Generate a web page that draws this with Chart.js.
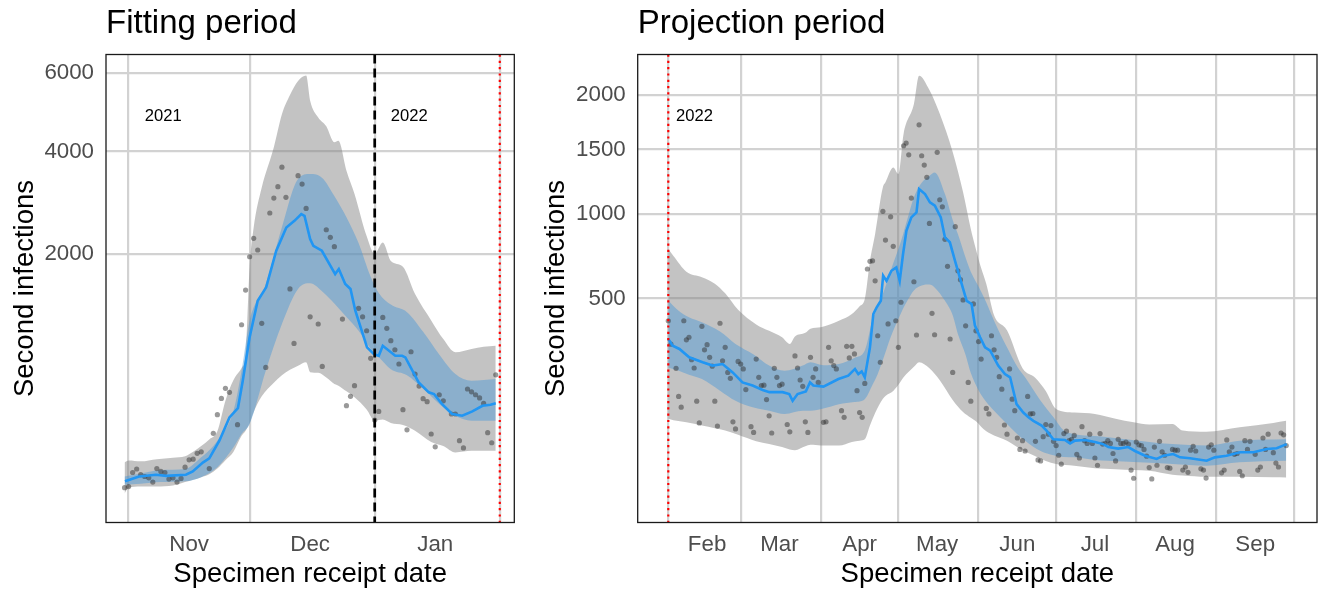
<!DOCTYPE html>
<html>
<head>
<meta charset="utf-8">
<script src="https://cdn.jsdelivr.net/npm/chart.js@4/dist/chart.umd.min.js"></script>
<style>
  html, body { margin: 0; padding: 0; background: #ffffff; }
  body { width: 1319px; height: 589px; position: relative; overflow: hidden; }
  canvas { position: absolute; top: 0; }
</style>
</head>
<body>
<canvas id="fit" width="530" height="589" style="left:0px"></canvas>
<canvas id="proj" width="789" height="589" style="left:530px"></canvas>
<script>
// ---------------- DATA ----------------
// Fitting period: x = days since 2021-11-01
const FIT_MONTH_STARTS = [0, 30, 61, 92];           // Nov 1, Dec 1, Jan 1, Feb 1
const FIT_LABEL_DAYS   = [15, 45, 76];              // mid-month label positions
const FIT_LABELS       = ['Nov', 'Dec', 'Jan'];
const FIT_Y_TICKS      = [2000, 4000, 6000];

const FIT_POINT_DAYS = [
  -1, 0, 1, 2, 3, 4, 5, 6, 7, 8,
  9, 10, 11, 12, 13, 14, 15, 16, 17, 18,
  20, 21, 22, 23, 24, 25, 27, 28, 29, 30,
  31, 32, 33, 34, 35, 36, 37, 38, 39, 40,
  41, 42, 43, 44, 45, 47, 48, 49, 50, 51,
  53, 54, 55, 56, 57, 58, 59, 60, 61, 62,
  63, 64, 65, 66, 67, 68, 69, 70, 71, 72,
  73, 74, 75, 76, 77, 78, 80, 81, 82, 83,
  84, 85, 86, 87, 88, 89, 90, 91];
const FIT_POINT_VALUES = [
  6, 7, 27, 34, 23, 20, 18, 12, 35, 29,
  27, 16, 18, 12, 17, 38, 56, 58, 75, 80,
  35, 151, 245, 346, 417, 388, 192, 1019, 1459, 1956,
  2261, 2065, 1036, 586, 2718, 3008, 3237, 3652, 3022, 1475,
  815, 3467, 3292, 2806, 1113, 1028, 595, 2412, 2279, 2120,
  1086, 299, 360, 437, 1218, 1113, 951, 668, 216, 264,
  1106, 978, 843, 751, 616, 274, 167, 731, 529, 434,
  344, 324, 148, 97, 371, 330, 249, 249, 120, 93,
  412, 392, 371, 349, 313, 154, 112, 523];

const FIT_MEDIAN_DAYS = [-0.9, 2.6, 6.8, 9.3, 14.2, 15.9, 18.4, 20, 22.5, 25,
  27.1, 28.3, 30, 32, 34.1, 36.6, 39.1, 41.1, 42.8, 43.6,
  45, 45.8, 47.9, 51.2, 52.1, 53.7, 55, 56.2, 59.1, 60.8,
  62, 63, 66.1, 67.8, 68.6, 71.9, 74.4, 75.7, 77.7, 80.2,
  82.7, 85.2, 87.7, 89.7, 91];
const FIT_MEDIAN = [13, 20, 23, 21, 23, 29, 49, 60, 120, 230,
  284, 475, 879, 1316, 1497, 2053, 2452, 2572, 2699, 2665,
  2250, 2135, 2053, 1689, 1764, 1544, 1474, 1188, 775, 708,
  692, 791, 692, 692, 677, 462, 388, 376, 309, 249,
  239, 264, 298, 305, 314];

const FIT_BAND50_DAYS = [-1, 3, 8, 14, 18, 22, 26, 28, 30, 34, 38, 42, 45, 48, 51, 54, 57, 60, 62, 65, 69, 73, 77, 81, 85, 91];
const FIT_UPPER50 = [20, 25, 32, 34, 63, 120, 268, 557, 1066, 1544, 2455, 3397, 3503, 3420, 3050, 2640, 2180, 1650, 1420, 1265, 1170, 940, 705, 529, 475, 488];
const FIT_LOWER50 = [9, 10, 12, 13, 19, 38, 95, 148, 195, 557, 1027, 1475, 1553, 1440, 1280, 1110, 950, 760, 680, 570, 520, 415, 309, 239, 212, 212];

const FIT_BAND95_DAYS = [-1, 0, 3, 7, 11, 14, 16, 18, 20, 22, 24, 26, 28, 29, 30, 31, 33, 36, 38, 40, 42, 44, 45, 47, 49, 51, 52, 54, 56, 59, 61, 63, 65, 68, 71, 75, 78, 81, 85, 88, 91];
const FIT_UPPER95 = [49, 54, 52, 58, 62, 66, 80, 100, 125, 160, 330, 480, 580, 700, 1790, 2450, 3220, 4100, 4900, 5400, 5780, 5930, 5250, 4820, 4600, 4215, 4250, 3575, 3090, 2300, 2000, 2190, 1890, 1800, 1405, 1070, 860, 726, 758, 781, 791];
const FIT_LOWER95 = [2, 6, 7, 7, 8, 12, 15, 19, 24, 35, 55, 80, 140, 163, 200, 260, 360, 460, 520, 565, 600, 631, 545, 540, 500, 450, 437, 395, 353, 275, 212, 218, 200, 190, 163, 115, 100, 78, 83, 83, 83];

// Projection period: x = days since 2022-02-01
const PROJ_MONTH_STARTS = [0, 28, 59, 89, 120, 150, 181, 212, 242];
const PROJ_LABEL_DAYS   = [15, 43, 74, 104, 135, 165, 196, 227];
const PROJ_LABELS       = ['Feb', 'Mar', 'Apr', 'May', 'Jun', 'Jul', 'Aug', 'Sep'];
const PROJ_Y_TICKS      = [500, 1000, 1500, 2000];

const PROJ_POINT_DAYS = [
  0, 1, 3, 4, 5, 6, 7, 8, 9, 10,
  11, 12, 13, 14, 15, 16, 17, 18, 19, 20,
  21, 22, 23, 24, 25, 26, 27, 28, 29, 30,
  32, 33, 34, 35, 36, 37, 38, 39, 40, 41,
  42, 43, 44, 46, 47, 49, 50, 51, 52, 53,
  54, 55, 56, 57, 58, 60, 61, 62, 63, 64,
  65, 67, 68, 69, 70, 71, 72, 73, 74, 75,
  76, 77, 78, 79, 80, 81, 82, 83, 84, 85,
  86, 87, 88, 89, 90, 91, 92, 93, 94, 95,
  96, 97, 98, 99, 100, 101, 102, 103, 104, 105,
  106, 107, 108, 109, 110, 111, 112, 113, 114, 115,
  116, 117, 118, 119, 120, 121, 123, 124, 125, 126,
  127, 128, 129, 130, 131, 132, 133, 134, 135, 136,
  137, 138, 139, 140, 141, 142, 143, 144, 145, 146,
  147, 148, 149, 150, 151, 152, 153, 154, 155, 156,
  157, 158, 159, 160, 161, 162, 163, 164, 165, 166,
  167, 168, 169, 170, 171, 172, 173, 174, 175, 176,
  177, 178, 179, 180, 181, 182, 183, 184, 185, 186,
  187, 188, 189, 190, 191, 192, 193, 194, 195, 196,
  197, 199, 200, 201, 202, 203, 204, 206, 207, 208,
  209, 210, 211, 214, 215, 216, 217, 218, 219, 220,
  221, 222, 223, 224, 225, 227, 228, 229, 230, 231,
  232, 234, 235, 236, 237, 238, 239];
const PROJ_POINT_VALUES = [
  396, 300, 215, 134, 108, 396, 317, 327, 244, 216,
  122, 75, 372, 279, 298, 252, 222, 122, 69, 385,
  240, 288, 202, 184, 77, 64, 238, 229, 213, 152,
  68, 58, 246, 187, 163, 164, 126, 89, 57, 215,
  187, 163, 167, 72, 59, 257, 216, 179, 161, 77,
  58, 252, 187, 213, 172, 76, 77, 288, 240, 224,
  213, 100, 86, 292, 250, 292, 264, 149, 96, 86,
  169, 655, 699, 702, 590, 333, 235, 1020, 828, 382,
  982, 789, 396, 288, 481, 1533, 1556, 1456, 1115, 585,
  336, 1719, 1448, 1371, 1273, 937, 429, 337, 1477, 1103,
  1052, 833, 670, 320, 202, 915, 645, 596, 492, 374,
  172, 122, 473, 353, 310, 246, 105, 93, 333, 279,
  252, 189, 153, 71, 55, 213, 127, 100, 49, 33,
  45, 31, 134, 93, 94, 44, 21, 20, 51, 72,
  55, 70, 44, 38, 26, 17, 56, 60, 45, 47,
  53, 27, 23, 68, 45, 41, 55, 41, 23, 16,
  56, 40, 41, 45, 41, 28, 20, 47, 41, 41,
  43, 40, 12, 6.6, 43, 39, 38, 33, 25, 14,
  6.2, 36, 16, 44, 30, 26, 14, 13.5, 33, 32,
  32, 12, 14.5, 10.4, 32, 37, 31, 13, 12, 6.7,
  36, 39, 32, 10, 12, 46, 30, 36, 27, 28,
  11, 8.1, 45, 33, 44, 27, 12, 14.5, 49, 33,
  55, 29, 18, 14.5, 57, 54, 38];

const PROJ_MEDIAN_DAYS = [0, 1.7, 4.3, 8.1, 13.3, 17.1, 21, 24.9, 28.7, 32.6,
  36.5, 39.1, 44.2, 46.8, 48.1, 50, 53.2, 54.8, 56.1, 60,
  65.8, 69.6, 72.2, 73.5, 74.8, 76, 78, 79.3, 80.6, 82.2,
  83.1, 84.4, 86.3, 88.2, 89.5, 90.8, 92.1, 94, 96, 97,
  99.3, 101.2, 103.1, 105.4, 107, 108.9, 110.9, 113.5, 115.4, 117.3,
  118.6, 120.6, 122.5, 124.5, 127.6, 130.2, 132.2, 134.7, 137.3, 139.3,
  141.2, 144.4, 146.3, 148.9, 153.4, 155.4, 157.3, 161.2, 165, 168.2,
  170.2, 174, 177.9, 180.5, 184.4, 188.9, 191.5, 195.3, 197.9, 201.8,
  208.2, 211.4, 215.9, 221.1, 226.3, 231.5, 235.3, 239.2];
const PROJ_MEDIAN = [320, 294, 282, 252, 235, 224, 229, 202, 172, 163,
  151, 145, 145, 140, 123, 140, 147, 172, 163, 160,
  182, 192, 213, 197, 205, 187, 288, 426, 457, 488,
  618, 590, 645, 664, 590, 742, 888, 978, 1013, 1183,
  1145, 1084, 1060, 978, 845, 814, 702, 573, 488, 473,
  375, 327, 288, 276, 224, 197, 187, 115, 96, 86,
  79, 70, 61, 47, 46, 41, 45, 46, 43, 40,
  36, 34, 36, 31, 25.5, 22, 25.5, 27.4, 23.7, 22.7,
  20.2, 23.7, 25.5, 29.4, 29.4, 33.5, 34.5, 40];

const PROJ_BAND50_DAYS = [0, 4, 8, 13, 20, 26, 33, 39, 45, 52, 55, 60, 66, 72, 76, 79, 81, 84, 86, 90, 93, 95, 98, 101, 103, 107, 110, 112, 115, 117, 120, 123, 126, 131, 135, 138, 144, 149, 153, 157, 165, 170, 182, 195, 208, 221, 239];
const PROJ_UPPER50 = [488, 441, 411, 389, 350, 301, 262, 224, 207, 224, 235, 225, 229, 250, 276, 400, 457, 560, 645, 820, 1000, 1121, 1230, 1285, 1311, 1145, 960, 867, 720, 640, 560, 480, 396, 288, 220, 187, 123, 86, 61, 55, 52, 50, 45, 40, 38, 45, 47];
const PROJ_LOWER50 = [218, 207, 195, 182, 149, 123, 107, 100, 93, 100, 100, 105, 115, 120, 127, 165, 197, 270, 327, 430, 500, 540, 565, 570, 555, 488, 420, 340, 260, 200, 150, 120, 100, 73, 55, 45, 31, 26, 24, 23.7, 21, 20.2, 18.7, 17.1, 15.6, 18.7, 20.2];

const PROJ_BAND95_DAYS = [0, 2, 7, 13, 18, 22, 27, 34, 39, 44, 47, 49, 53, 55, 59, 66, 71, 74, 76, 78, 80, 83, 84, 87, 89, 91, 95, 97, 101, 105, 110, 114, 117, 119, 121, 123, 126, 131, 137, 142, 146, 150, 157, 165, 173, 180, 186, 195, 199, 208, 221, 234, 239];
const PROJ_UPPER95 = [772, 730, 640, 610, 575, 525, 445, 380, 353, 327, 301, 330, 345, 362, 368, 396, 426, 462, 497, 700, 867, 1196, 1234, 1352, 1300, 1635, 1913, 2195, 2050, 1820, 1480, 1160, 900, 770, 660, 573, 420, 355, 215, 185, 148, 104, 96, 93, 83, 76, 72, 73, 61, 59, 67, 75, 79];
const PROJ_LOWER95 = [83, 80, 76, 70, 65, 61, 54, 44, 40, 36, 33, 32, 37, 39, 38, 38, 43, 45, 47, 70, 95, 128, 135, 148, 165, 187, 220, 235, 215, 178, 125, 97, 85, 78, 68, 60, 53, 45, 32, 25, 20, 17, 15.6, 13.5, 12.7, 12, 11.6, 8.8, 8.3, 7.5, 7.5, 7.2, 7.1];

// ---------------- STYLE ----------------
const FONT = "'Liberation Sans', Arial, Helvetica, sans-serif";
const GRID = '#d2d2d2';
const LINE_BLUE = '#2196f3';
const BLUE_FILL = 'rgba(70,150,215,0.45)';
const GREY_FILL = 'rgba(127,127,127,0.47)';
const POINT_COL = 'rgba(51,51,51,0.5)';
const TICK_COL = '#4d4d4d';

Chart.defaults.font.family = FONT;

// square-root axis, as in the original figure
class SqrtScale extends Chart.LinearScale {
  _t(v) { return Math.sign(v) * Math.sqrt(Math.abs(v)); }
  getPixelForValue(v) {
    if (v === null || v === undefined || isNaN(v)) return NaN;
    const a = this._t(this.min), b = this._t(this.max);
    return this.getPixelForDecimal((this._t(v) - a) / (b - a));
  }
  getValueForPixel(p) {
    const a = this._t(this.min), b = this._t(this.max);
    const s = a + this.getDecimalForPixel(p) * (b - a);
    return Math.sign(s) * s * s;
  }
}
SqrtScale.id = 'sqrt';
Chart.register(SqrtScale);

const zip = (xs, ys) => xs.map((x, i) => ({ x: x, y: ys[i] }));

function monthTicks(starts, labelDays, labels) {
  return starts.map(v => ({ value: v, g: true, lab: '' }))
    .concat(labelDays.map((v, i) => ({ value: v, g: false, lab: labels[i] })))
    .sort((a, b) => a.value - b.value);
}

const overlay = {
  id: 'overlay',
  afterDatasetsDraw(chart, args, opts) {
    const { ctx, chartArea: a, scales } = chart;
    const x = scales.x, y = scales.y;
    ctx.save();
    ctx.beginPath();
    ctx.rect(a.left, a.top, a.right - a.left, a.bottom - a.top);
    ctx.clip();
    (opts.vlines || []).forEach(v => {
      const px = x.getPixelForValue(v.day);
      ctx.beginPath();
      ctx.setLineDash(v.dash);
      ctx.lineWidth = v.width;
      ctx.strokeStyle = v.color;
      ctx.moveTo(px, a.top);
      ctx.lineTo(px, a.bottom);
      ctx.stroke();
    });
    ctx.setLineDash([]);
    ctx.fillStyle = '#000';
    ctx.font = '16.6px ' + FONT;
    ctx.textAlign = 'left';
    ctx.textBaseline = 'middle';
    (opts.labels || []).forEach(l => {
      ctx.fillText(l.text, x.getPixelForValue(l.day), y.getPixelForValue(l.value));
    });
    ctx.restore();
    ctx.save();
    ctx.strokeStyle = '#1a1a1a';
    ctx.lineWidth = 1.3;
    ctx.strokeRect(a.left, a.top, a.right - a.left, a.bottom - a.top);
    ctx.restore();
  }
};

function build(id, p) {
  return new Chart(document.getElementById(id), {
    type: 'line',
    data: {
      datasets: [
        { data: zip(p.medDays, p.med), borderColor: LINE_BLUE, borderWidth: 2.6, pointRadius: 0,
          fill: false, tension: 0, order: 1 },
        { data: zip(p.ptDays, p.pt), showLine: false, pointRadius: 2.6, pointBackgroundColor: POINT_COL,
          pointBorderWidth: 0, borderWidth: 0, fill: false, order: 2 },
        { data: zip(p.b50Days, p.u50), borderWidth: 0, borderColor: 'transparent', pointRadius: 0,
          backgroundColor: BLUE_FILL, fill: { target: 3 }, cubicInterpolationMode: 'monotone', order: 3 },
        { data: zip(p.b50Days, p.l50), borderWidth: 0, borderColor: 'transparent', pointRadius: 0,
          fill: false, cubicInterpolationMode: 'monotone', order: 3 },
        { data: zip(p.b95Days, p.u95), borderWidth: 0, borderColor: 'transparent', pointRadius: 0,
          backgroundColor: GREY_FILL, fill: { target: 5 }, cubicInterpolationMode: 'monotone', order: 4 },
        { data: zip(p.b95Days, p.l95), borderWidth: 0, borderColor: 'transparent', pointRadius: 0,
          fill: false, cubicInterpolationMode: 'monotone', order: 4 }
      ]
    },
    options: {
      responsive: false,
      animation: false,
      devicePixelRatio: 1,
      events: [],
      layout: { autoPadding: false, padding: { left: 0, right: p.padRight, top: 0, bottom: 0 } },
      plugins: {
        legend: { display: false },
        tooltip: { enabled: false },
        title: {
          display: true, text: p.title, align: 'start', fullSize: false, color: '#000000',
          font: { size: 33, weight: 'normal', lineHeight: 1.2 },
          padding: { top: 4.5, bottom: 10.4 }
        },
        overlay: { vlines: p.vlines, labels: p.labels }
      },
      scales: {
        x: {
          type: 'linear', position: 'bottom', min: p.xmin, max: p.xmax,
          afterBuildTicks: s => { s.ticks = p.xticks.map(t => Object.assign({}, t)); },
          afterFit: s => { s.height = 66.5; },
          ticks: {
            autoSkip: false, maxRotation: 0, minRotation: 0, padding: 9, color: TICK_COL,
            font: { size: 22.3 },
            callback: (v, i, t) => (t[i] && t[i].lab) || ''
          },
          grid: { color: c => (c.tick && c.tick.g) ? GRID : 'rgba(0,0,0,0)', lineWidth: 2.2, drawTicks: false },
          border: { display: false },
          title: { display: true, text: 'Specimen receipt date', color: '#000000',
            font: { size: 27.5, lineHeight: 1.2 }, padding: { top: 0, bottom: -2 } }
        },
        y: {
          type: 'sqrt', position: 'left', min: p.ymin, max: p.ymax, bounds: 'data',
          afterBuildTicks: s => { s.ticks = p.yticks.map(v => ({ value: v })); },
          afterFit: s => { s.width = p.yWidth; },
          ticks: { padding: 12, color: TICK_COL, font: { size: 22.3 }, callback: v => String(v) },
          grid: { color: GRID, lineWidth: 2.2, drawTicks: false },
          border: { display: false },
          title: { display: true, text: 'Second infections', color: '#000000',
            font: { size: 27.5, lineHeight: 1.2 }, padding: { top: p.yTitlePad, bottom: 0 } }
        }
      }
    },
    plugins: [overlay]
  });
}

build('fit', {
  title: 'Fitting period',
  ptDays: FIT_POINT_DAYS, pt: FIT_POINT_VALUES,
  medDays: FIT_MEDIAN_DAYS, med: FIT_MEDIAN,
  b50Days: FIT_BAND50_DAYS, u50: FIT_UPPER50, l50: FIT_LOWER50,
  b95Days: FIT_BAND95_DAYS, u95: FIT_UPPER95, l95: FIT_LOWER95,
  xmin: -5.6, xmax: 95.6, ymin: -14.8, ymax: 6530,
  xticks: monthTicks(FIT_MONTH_STARTS, FIT_LABEL_DAYS, FIT_LABELS),
  yticks: FIT_Y_TICKS,
  yWidth: 106, padRight: 15.7, yTitlePad: 9,
  vlines: [
    { day: 61, color: '#000000', width: 2.7, dash: [9, 5] },
    { day: 92, color: '#ff0000', width: 2.2, dash: [2.2, 4.1] }
  ],
  labels: [ { text: '2021', day: 4, value: 4848 }, { text: '2022', day: 65, value: 4848 } ]
});

build('proj', {
  title: 'Projection period',
  ptDays: PROJ_POINT_DAYS, pt: PROJ_POINT_VALUES,
  medDays: PROJ_MEDIAN_DAYS, med: PROJ_MEDIAN,
  b50Days: PROJ_BAND50_DAYS, u50: PROJ_UPPER50, l50: PROJ_LOWER50,
  b95Days: PROJ_BAND95_DAYS, u95: PROJ_UPPER95, l95: PROJ_LOWER95,
  xmin: -11.83, xmax: 250.9, ymin: -5.29, ymax: 2420,
  xticks: monthTicks(PROJ_MONTH_STARTS, PROJ_LABEL_DAYS, PROJ_LABELS),
  yticks: PROJ_Y_TICKS,
  yWidth: 107.7, padRight: 2, yTitlePad: 10,
  vlines: [ { day: 0, color: '#ff0000', width: 2.2, dash: [2.2, 4.1] } ],
  labels: [ { text: '2022', day: 3, value: 1798 } ]
});
</script>
</body>
</html>
